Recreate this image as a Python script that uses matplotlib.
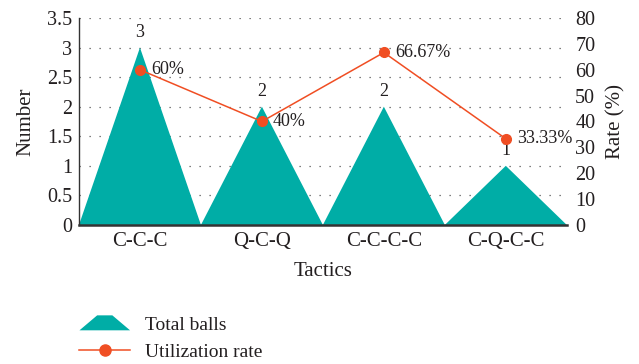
import matplotlib
matplotlib.use("Agg")
import matplotlib.pyplot as plt
from matplotlib.patches import Polygon
from matplotlib.lines import Line2D
from matplotlib.legend_handler import HandlerPatch

plt.rcParams['font.family'] = ['Liberation Serif', 'DejaVu Serif']

categories = ["C-C-C", "Q-C-Q", "C-C-C-C", "C-Q-C-C"]
total_balls = [3, 2, 2, 1]
rate = [60, 40, 66.67, 33.33]
rate_labels = ["60%", "40%", "66.67%", "33.33%"]

teal = "#00ADA6"
orange = "#F04E23"
txt = "#231F20"

fig = plt.figure(figsize=(6.39, 3.64), dpi=100)
ax = fig.add_axes([0.1236, 0.382, 0.7634, 0.5685])
ax2 = ax.twinx()

x = list(range(len(categories)))
for i, v in zip(x, total_balls):
    ax.add_patch(Polygon([(i - 0.5, 0), (i, v), (i + 0.5, 0)], closed=True,
                         facecolor=teal, edgecolor='none', zorder=2))
    ax.annotate(str(v), (i, v), xytext=(0, 5), textcoords='offset points',
                ha='center', va='bottom', fontsize=13, color=txt)

ax.set_xlim(-0.5, len(categories) - 0.5)
ax.set_ylim(0, 3.5)
ax.set_yticks([0, 0.5, 1, 1.5, 2, 2.5, 3, 3.5])
ax.set_yticklabels(["0", "0.5", "1", "1.5", "2", "2.5", "3", "3.5"])
ax.set_xticks(x)
ax.set_xticklabels(categories)
ax.yaxis.grid(True, linestyle=(0, (1, 7)), color='#555555', linewidth=0.9, zorder=0)
ax.set_axisbelow(True)
ax.tick_params(axis='both', length=0, labelsize=14.5, colors=txt, pad=5)
ax.tick_params(axis='x', labelsize=15, pad=5)
ax.set_ylabel("Number", fontsize=15, color=txt, labelpad=8)
ax.set_xlabel("Tactics", fontsize=15, color=txt, labelpad=8)
for s in ['top', 'right']:
    ax.spines[s].set_visible(False)
ax.spines['left'].set_color('#333333')
ax.spines['left'].set_linewidth(1.0)
ax.spines['bottom'].set_color('#333333')
ax.spines['bottom'].set_linewidth(1.8)

ax2.plot(x, rate, color=orange, linewidth=1.1, marker='o', markersize=7,
         zorder=5)
for i, r, lab in zip(x, rate, rate_labels):
    ax2.annotate(lab, (i, r), xytext=(8, 0), textcoords='offset points',
                 ha='left', va='center', fontsize=13, color=txt)
ax2.set_ylim(0, 80)
ax2.set_yticks(range(0, 81, 10))
ax2.tick_params(axis='y', length=0, labelsize=14.5, colors=txt, pad=6)
ax2.set_ylabel("Rate (%)", fontsize=15, color=txt, labelpad=8)
for s in ['top', 'right', 'left', 'bottom']:
    ax2.spines[s].set_visible(False)


def make_tri(legend, orig_handle, xdescent, ydescent, width, height, fontsize):
    return Polygon([(-xdescent, -ydescent), (-xdescent + width * 0.35, -ydescent + height * 1.1),
                    (-xdescent + width * 0.65, -ydescent + height * 1.1),
                    (-xdescent + width, -ydescent)], closed=True)


tri_handle = Polygon([(0, 0), (1, 1), (2, 0)], facecolor=teal, edgecolor='none')
line_handle = Line2D([], [], color=orange, linewidth=1.1, marker='o', markersize=8)
fig.legend([tri_handle, line_handle], ["Total balls", "Utilization rate"],
           loc='upper left', bbox_to_anchor=(0.097, 0.178), frameon=False,
           fontsize=14, handlelength=2.6, handletextpad=0.75, labelspacing=0.45,
           handler_map={Polygon: HandlerPatch(patch_func=make_tri)},
           labelcolor=txt)

fig.savefig("out.png", dpi=100)
